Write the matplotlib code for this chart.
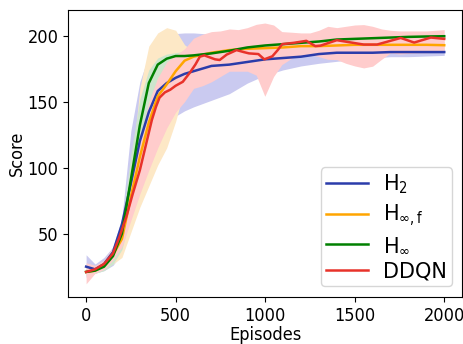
import matplotlib
matplotlib.use("Agg")
import matplotlib.pyplot as plt

# Episode grid for the smooth curves and the shaded bands
episodes = [0, 50, 100, 150, 200, 250, 300, 350, 400, 450, 500, 550, 600,
            700, 800, 900, 1000, 1100, 1200, 1300, 1400, 1500, 1600, 1700,
            1800, 1900, 2000]

# H2 (blue)
h2_mean = [25, 23, 27, 36, 57, 88, 120, 142, 158, 164, 168, 171, 173,
           177, 178, 180, 182, 183, 184, 186, 187, 187, 187, 187.5,
           187.5, 187.5, 187.5]
h2_low = [17, 20, 22, 26, 35, 55, 85, 110, 125, 133, 139, 143, 146,
          151, 156, 164, 170, 174, 177, 179, 180.5, 182, 183, 184,
          184, 184.5, 185]
h2_high = [34, 27, 32, 40, 62, 128, 165, 185, 195, 200, 201.5, 202, 202,
           201, 199, 197, 195, 193, 192, 191.5, 191, 190.5, 190, 190,
           190, 190, 190]

# H_inf,f (orange)
hinff_mean = [21, 22, 26, 34, 46, 78, 108, 134, 154, 163, 173, 181, 184,
              187, 189, 190, 190.5, 191, 192, 192, 192.5, 193, 193, 193,
              193, 193, 192.7]
hinff_low = [19, 20, 23, 27, 32, 51, 70, 86, 102, 115, 135, 160, 177,
             183, 186, 187.5, 188, 188.5, 189, 189.5, 190, 190, 190, 190,
             190, 190, 190]
hinff_high = [24, 24, 28, 38, 55, 95, 160, 192, 202, 206, 204, 193, 188,
              189, 191, 192, 192.5, 193, 194, 194.5, 195, 195.5, 195.5, 196,
              196, 196, 195.5]

# H_inf (green)
hinf_mean = [21, 22, 25, 33, 50, 91, 132, 164, 178, 182.5, 184.5, 184.5, 185,
             186.5, 188.5, 191, 192.5, 193.5, 194.5, 195.5, 197, 197.5, 198,
             198.5, 199, 199.3, 199.5]
hinf_low = [18, 20, 22, 27, 38, 65, 103, 145, 168, 176, 180, 181, 182,
            184, 186, 189, 190.5, 191.5, 192.5, 193.5, 195.5, 196, 196.5,
            197, 197.5, 198, 198]
hinf_high = [24, 24, 28, 37, 58, 110, 152, 174, 183, 186, 187, 188, 188,
             189, 191, 193, 194.5, 195.5, 196.5, 197.5, 198.5, 199, 199.5,
             200, 200.5, 200.5, 201]

# DDQN (red): own episode grid, the curve is jagged
ddqn_ep = [0, 50, 100, 150, 185, 225, 260, 300, 330, 367, 390, 410, 440,
           470, 500, 540, 580, 610, 635, 660, 690, 720, 746, 785, 840, 880,
           910, 962, 995, 1040, 1070, 1095, 1160, 1230, 1280, 1310, 1400,
           1550, 1625, 1757, 1832, 1925, 2000]
ddqn_mean = [21, 23, 27, 35, 47, 63, 80, 98, 115, 136, 146, 153, 157,
             159, 162, 165, 172, 178, 184, 185, 183.5, 182, 181.5, 185.6, 189,
             187.5, 186.5, 186, 182, 184.3, 189, 193.5, 194.5, 196, 192, 192.4,
             196.5, 193.2, 193.2, 198.2, 194.7, 198.5, 197.5]

ddqn_band_ep = [0, 50, 100, 150, 200, 250, 300, 350, 400, 450, 500, 550, 600,
                650, 700, 750, 800, 850, 900, 950, 998, 1047, 1093, 1150, 1200,
                1250, 1300, 1350, 1400, 1450, 1500, 1550, 1600, 1650, 1700,
                1750, 1800, 1850, 1900, 2000]
ddqn_low = [12, 20, 23, 30, 40, 60, 80, 98, 115, 130, 142, 150, 160,
            162, 165, 169, 173, 173, 173, 170, 154, 169, 178, 183, 184.5,
            185.6, 184, 182, 181.8, 179, 177, 175.5, 176.8, 182, 186.9,
            186, 186.5, 186.9, 187, 188]
ddqn_high = [28, 26, 30, 40, 58, 88, 120, 150, 168, 180, 185, 190, 198,
             201, 203, 203.5, 205, 204.5, 206, 208.5, 209.5, 208, 203, 202.5,
             202, 202, 204, 207, 206, 207, 208, 208.3, 207, 205, 204,
             203.5, 203.5, 203.5, 203.5, 204.5]

labels = [r'H$_2$', r'H$_{\infty,\mathrm{f}}$', r'H$_\infty$', 'DDQN']

plt.rcParams['font.family'] = ['DejaVu Sans']
plt.rcParams['font.stretch'] = 'condensed'

fig = plt.figure(figsize=(4.64, 3.44), dpi=100)
ax = fig.add_axes([0.147, 0.137, 0.849, 0.834])

# shaded bands (light, opaque)
ax.fill_between(episodes, h2_low, h2_high, color='#cacaf0', lw=0)
ax.fill_between(episodes, hinff_low, hinff_high, color='#fde8c6', lw=0)
ax.fill_between(episodes, hinf_low, hinf_high, color='#cde6cd', lw=0)
ax.fill_between(ddqn_band_ep, ddqn_low, ddqn_high, color='#ffcccc', lw=0)

ax.plot(episodes, h2_mean, color='#2b3caa', lw=1.8, label=labels[0])
ax.plot(episodes, hinff_mean, color='orange', lw=1.8, label=labels[1])
ax.plot(episodes, hinf_mean, color='green', lw=1.8, label=labels[2])
ax.plot(ddqn_ep, ddqn_mean, color='#e8322a', lw=1.8, label=labels[3])

ax.set_xticks([0, 500, 1000, 1500, 2000])
ax.set_yticks([50, 100, 150, 200])
ax.tick_params(labelsize=13)
ax.set_xlabel('Episodes', fontsize=13, labelpad=1)
ax.set_ylabel('Score', fontsize=13, labelpad=1)

ax.legend(loc='lower right', prop={'family': 'DejaVu Sans', 'stretch': 'normal', 'size': 15},
          handlelength=2.0, handletextpad=0.7, labelspacing=0.3,
          borderpad=0.25, borderaxespad=0.5)

fig.savefig('out.png', dpi=100)
